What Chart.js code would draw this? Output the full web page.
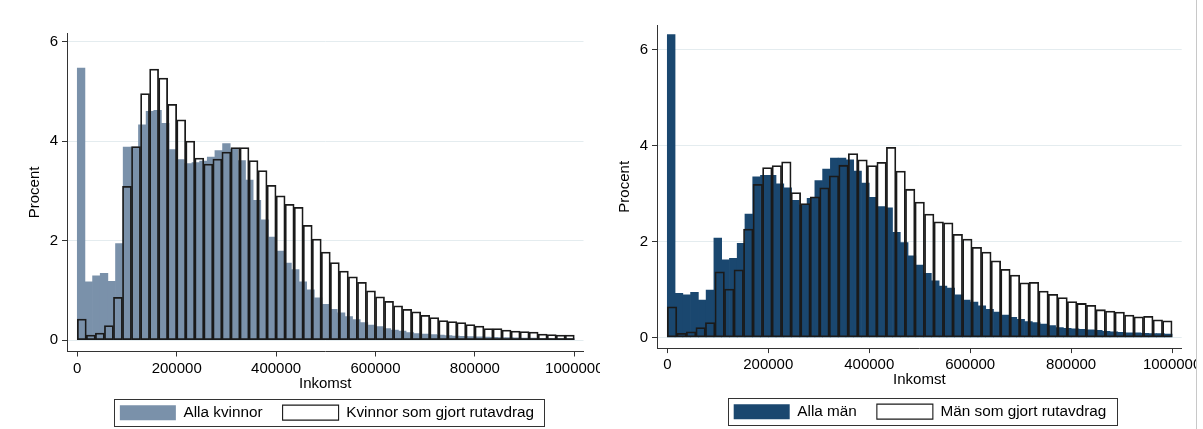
<!DOCTYPE html>
<html><head><meta charset="utf-8">
<script src="https://cdn.jsdelivr.net/npm/chart.js@4.4.1/dist/chart.umd.min.js"></script>
<style>
html,body{margin:0;padding:0;background:#fff;width:1203px;height:429px;overflow:hidden;}
#cL{position:absolute;left:0;top:0;}
#cR{position:absolute;left:600px;top:0;}
#edge{position:absolute;left:1196px;top:0;width:1px;height:429px;background:#c8c8c8;}
</style></head><body>
<canvas id="cL" width="600" height="429"></canvas>
<canvas id="cR" width="596" height="429"></canvas>
<div id="edge"></div>
<script>
const FONT = '"Liberation Sans", Arial, sans-serif';
const incomeRange = [0, 1000000];
const xTickValues = [0, 200000, 400000, 600000, 800000, 1000000];
const yTickValues = [0, 2, 4, 6];
const labelsWomen = ['Alla kvinnor', 'Kvinnor som gjort rutavdrag'];
const labelsMen = ['Alla män', 'Män som gjort rutavdrag'];
const xTitle = 'Inkomst';
const yTitle = 'Procent';

// Percent per income bin (all bins span 0 - 1 000 000)
const allaKvinnor = [5.47, 1.17, 1.29, 1.34, 1.18, 1.94, 3.88, 3.88, 4.33, 4.60,
  4.62, 4.36, 3.83, 3.63, 3.55, 3.57, 3.60, 3.68, 3.81, 3.95,
  3.84, 3.61, 3.22, 2.81, 2.42, 2.07, 1.79, 1.55, 1.42, 1.17,
  1.01, 0.85, 0.72, 0.62, 0.55, 0.47, 0.41, 0.35, 0.30, 0.27,
  0.23, 0.20, 0.18, 0.15, 0.13, 0.12, 0.11, 0.10, 0.09, 0.08,
  0.075, 0.07, 0.065, 0.06, 0.055, 0.05, 0.05, 0.045, 0.04, 0.04,
  0.035, 0.035, 0.03, 0.03, 0.03];
const kvinnorRut = [0.42, 0.10, 0.14, 0.29, 0.86, 3.09, 3.89, 4.96, 5.45, 5.27,
  4.74, 4.43, 4.00, 3.66, 3.54, 3.64, 3.78, 3.87, 3.87, 3.61,
  3.41, 3.11, 2.90, 2.73, 2.67, 2.31, 2.03, 1.77, 1.56, 1.39,
  1.27, 1.16, 0.99, 0.87, 0.78, 0.69, 0.62, 0.57, 0.50, 0.45,
  0.39, 0.37, 0.35, 0.31, 0.28, 0.23, 0.23, 0.20, 0.18, 0.17,
  0.16, 0.12, 0.11, 0.10, 0.10];
const allaMan = [6.31, 0.92, 0.89, 0.94, 0.78, 0.99, 2.07, 1.62, 1.65, 1.96,
  2.57, 3.35, 3.38, 3.38, 3.20, 3.12, 2.86, 2.76, 2.90, 3.27,
  3.51, 3.74, 3.74, 3.70, 3.47, 3.22, 2.92, 2.73, 2.70, 2.19,
  1.98, 1.70, 1.51, 1.34, 1.18, 1.07, 1.03, 0.89, 0.78, 0.74,
  0.66, 0.59, 0.53, 0.47, 0.42, 0.38, 0.33, 0.31, 0.28, 0.25,
  0.21, 0.19, 0.18, 0.17, 0.16, 0.15, 0.13, 0.12, 0.11, 0.10,
  0.10, 0.09, 0.08, 0.08, 0.07];
const manRut = [0.64, 0.09, 0.12, 0.21, 0.31, 1.37, 1.01, 1.41, 2.26, 3.19,
  3.54, 3.58, 3.66, 3.02, 2.79, 2.93, 3.12, 3.37, 3.59, 3.83,
  3.70, 3.58, 3.65, 3.96, 3.47, 3.09, 2.82, 2.57, 2.41, 2.39,
  2.15, 2.05, 1.88, 1.78, 1.60, 1.42, 1.30, 1.14, 1.15, 0.97,
  0.90, 0.83, 0.75, 0.71, 0.67, 0.58, 0.55, 0.53, 0.47, 0.43,
  0.44, 0.37, 0.35];

function toBins(values) {
  const w = (incomeRange[1] - incomeRange[0]) / values.length;
  return values.map((v, i) => ({ x: incomeRange[0] + (i + 0.5) * w, y: v }));
}

const fixLayout = {
  id: 'fixLayout',
  afterLayout(chart, args, o) {
    const lg = chart.legend; if (!lg) return;
    const pad = lg.options.labels.padding;
    lg.left = o.cx - 270; lg.right = o.cx + 270; lg.width = 540;
    lg.top = o.rowTop - pad; lg.height = 60; lg.bottom = lg.top + 60;
  },
  afterDraw(chart, args, o) {
    const lg = chart.legend; if (!lg || !lg.lineWidths) return;
    const pad = lg.options.labels.padding;
    const lw = lg.lineWidths[0];
    const x0 = (lg.left + pad + lg.right - lw) / 2;
    const cw = lw - pad;
    const ctx = chart.ctx;
    ctx.save();
    ctx.strokeStyle = '#333'; ctx.lineWidth = 1;
    ctx.strokeRect(Math.round(x0 - 5.5) + 0.5, Math.round(o.rowTop - 6.5) + 0.5, Math.round(cw + 16), 27);
    ctx.restore();
  }
};

function setTicks(list) { return s => { s.ticks = list.map(v => ({ value: v })); }; }

function makeChart(id, c) {
  return new Chart(document.getElementById(id), {
    type: 'bar',
    data: {
      datasets: [
        { label: c.labels[0], data: toBins(c.all), xAxisID: 'x2', backgroundColor: c.fill,
          borderWidth: 0, order: 2, grouped: false, barPercentage: 1, categoryPercentage: 1 },
        { label: c.labels[1], data: toBins(c.rut), xAxisID: 'x', backgroundColor: 'rgba(255,255,255,0)',
          borderColor: '#1a1a1a', borderWidth: 1.1, borderSkipped: false, order: 1, grouped: false,
          barPercentage: 1, categoryPercentage: 1 }
      ]
    },
    options: {
      responsive: false, animation: false, events: [],
      layout: { padding: c.pad },
      plugins: {
        legend: { position: 'bottom', maxHeight: 25,
          labels: { boxWidth: 56, boxHeight: 15, padding: 20, color: '#000',
            font: { family: FONT, size: 15.3 }, sort: (a, b) => a.datasetIndex - b.datasetIndex } },
        tooltip: { enabled: false },
        fixLayout: { cx: c.cx, rowTop: c.rowTop }
      },
      scales: {
        x: { type: 'linear', position: 'bottom', offset: false, min: c.xmin, max: c.xmax,
          afterBuildTicks: setTicks(xTickValues),
          afterFit: s => { s.height = c.xh; s.paddingLeft = 0; s.paddingRight = 0; },
          grid: { offset: false, drawOnChartArea: false, drawTicks: true, tickLength: 5, tickColor: '#333' },
          border: { display: true, color: '#333', width: 1 },
          ticks: { autoSkip: false, maxRotation: 0, minRotation: 0, padding: 3, color: '#000',
            font: { family: FONT, size: 15 }, callback: v => String(v) },
          title: { display: true, text: xTitle, color: '#000', font: { family: FONT, size: 15 }, padding: 0 } },
        x2: { type: 'linear', display: false, offset: false, grid: { offset: false },
          min: c.xmin, max: c.xmax, afterBuildTicks: setTicks(xTickValues) },
        y: { type: 'linear', min: c.ymin, max: c.ymax,
          afterBuildTicks: setTicks(yTickValues),
          afterFit: s => { s.width = c.yw; s.paddingTop = 0; s.paddingBottom = 0; },
          grid: { color: '#e4ecef', lineWidth: 1, drawTicks: true, tickLength: 5, tickColor: '#333' },
          border: { display: true, color: '#333', width: 1 },
          ticks: { padding: 4, color: '#000', font: { family: FONT, size: 15 }, callback: v => String(v) },
          title: { display: true, text: yTitle, color: '#000', font: { family: FONT, size: 15 },
            padding: { top: c.ytp, bottom: 0 } } }
      }
    },
    plugins: [fixLayout]
  });
}

makeChart('cL', {
  labels: labelsWomen, all: allaKvinnor, rut: kvinnorRut, fill: '#7a91aa',
  pad: { left: 0, right: 16.5, top: 33.3, bottom: 11.5 }, xh: 41, yw: 67, ytp: 26,
  xmin: -20700, xmax: 1018500, ymin: -0.23, ymax: 6.17, cx: 327, rowTop: 405
});
makeChart('cR', {
  labels: labelsMen, all: allaMan, rut: manRut, fill: '#1a476f',
  pad: { left: 0, right: 14.3, top: 25.5, bottom: 15 }, xh: 40.9, yw: 57, ytp: 16,
  xmin: -20400, xmax: 1019000, ymin: -0.22, ymax: 6.5, cx: 320, rowTop: 404
});
</script>
</body></html>
